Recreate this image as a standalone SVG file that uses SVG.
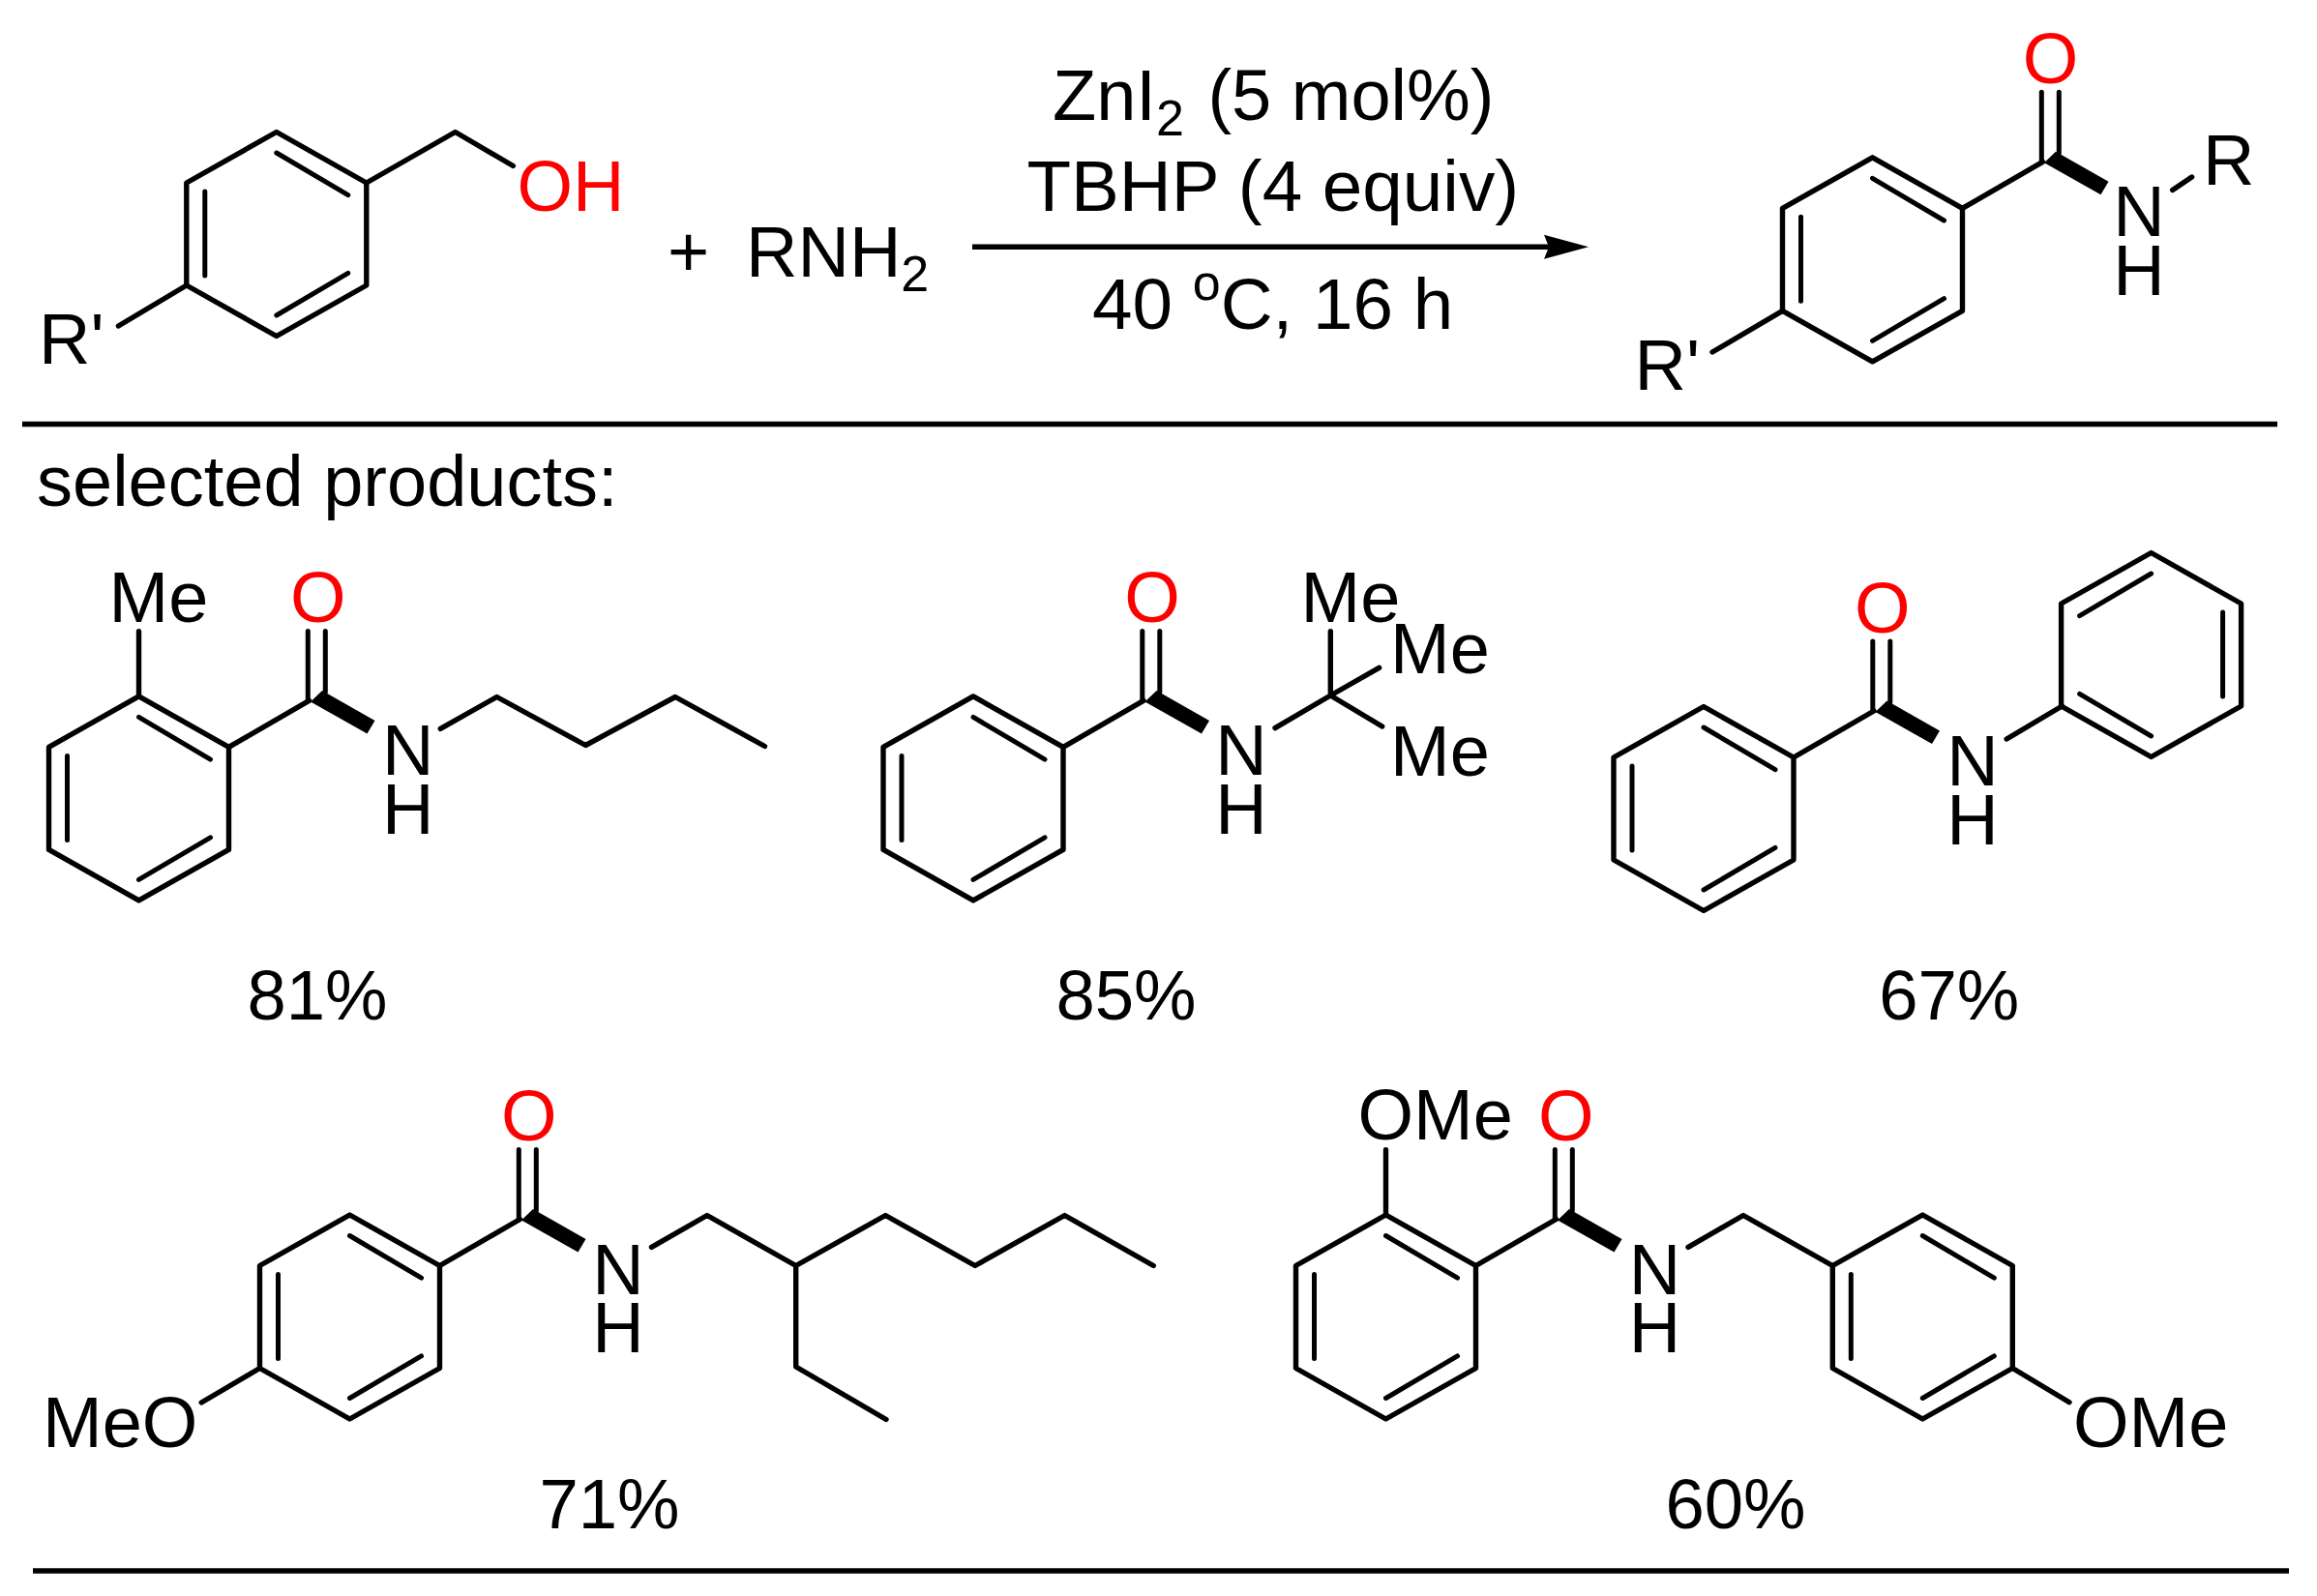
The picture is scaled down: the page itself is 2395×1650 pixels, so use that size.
<svg xmlns="http://www.w3.org/2000/svg" xmlns:xlink="http://www.w3.org/1999/xlink" width="2395" height="1650" viewBox="0 0 2395 1650">
<style>
text{font-family:"Liberation Sans",Arial,sans-serif;font-size:74px;fill:#000}
.r{fill:#f00}
.m{text-anchor:middle}
.s{font-size:52px}
.c{font-size:74.6px}
.y{font-size:72.5px}
.b{fill:none;stroke:#000;stroke-width:5.4;stroke-linejoin:round;stroke-linecap:round}
.i{fill:none;stroke:#000;stroke-width:5;stroke-linecap:round}
.rule{fill:none;stroke:#000;stroke-width:5.4}
</style>
<defs>
<marker id="head" markerUnits="userSpaceOnUse" viewBox="0 -13 46 26" markerWidth="46" markerHeight="26" refX="5" refY="0" orient="auto"><path d="M0,-12.5L46,0L0,12.5L5,0Z" fill="#000"/></marker>
<g id="ring"><path class="b" d="M0,-105.5L93,-53V53L0,105.5L-93,53V-53Z"/><path class="i" d="M0,-84L74,-40.3M-74,-44V43M74,40.4L0,84"/></g>
<g id="core"><use xlink:href="#ring" href="#ring"/><path class="b" d="M93,-53L176,-101"/><path class="i" d="M174.8,-101V-173M192.8,-110V-173"/><path d="M189.5,-111.5L244,-80.5L236,-67L177.5,-100Z" fill="#000"/></g>
</defs>
<g id="connectors">
<path class="rule" d="M23,438.5H2354M34,1624H2366"/>
<path class="rule" d="M1005,255.3H1601" marker-end="url(#head)"/>
</g>
<g id="reactant-alcohol">
<use xlink:href="#ring" href="#ring" x="285.8" y="242"/>
<path class="b" d="M378.8,189L470.6,136.5L530.4,171.5M192.8,295L122.4,337"/>
<text x="534.5" y="218" class="r">OH</text>
<text x="40" y="376.4">R'</text>
</g>
<g id="reactant-amine">
<text x="690" y="286">+</text>
<text x="771" y="286">RNH<tspan class="s" dy="15">2</tspan></text>
</g>
<g id="conditions">
<text x="1088" y="124">ZnI<tspan class="s" dy="15.5">2</tspan><tspan dx="4" dy="-15.5"> (5 mol%)</tspan></text>
<text x="1061.5" y="218" class="c">TBHP (4 equiv)</text>
<text x="1129" y="339.5" class="c">40 <tspan class="s" dy="-29.5">o</tspan><tspan dy="29.5">C, 16 h</tspan></text>
</g>
<g id="product-general">
<use xlink:href="#core" href="#core" x="1935.5" y="268.3"/>
<path class="b" d="M1842.5,321.3L1770,364M2245.7,196.4L2265.6,183"/>
<text x="2119.6" y="85.5" class="r m">O</text>
<text x="2211" y="243.8" class="m">N</text>
<text x="2211" y="305" class="m">H</text>
<text x="2277" y="191">R</text>
<text x="1689.5" y="403.4">R'</text>
</g>
<text id="selected-label" x="38" y="522.6">selected products:</text>
<g id="product-81">
<use xlink:href="#core" href="#core" x="143.5" y="825.4"/>
<path class="b" d="M143.5,720V652.8M455.3,753.4L513.5,720.5L605.3,770.5L698,720.5L790.5,771.5"/>
<text x="112.5" y="643">Me</text>
<text x="328.7" y="643" class="r m">O</text>
<text x="421.7" y="801" class="m">N</text>
<text x="421.7" y="861.8" class="m">H</text>
<text x="328" y="1054" class="m y">81%</text>
</g>
<g id="product-85">
<use xlink:href="#core" href="#core" x="1006" y="825.4"/>
<path class="b" d="M1318,752.7L1375.3,719M1375.3,719V652.8M1375.3,719L1425.6,690.3M1375.3,719L1428.7,751"/>
<text x="1191" y="643" class="r m">O</text>
<text x="1283" y="801" class="m">N</text>
<text x="1283" y="861.8" class="m">H</text>
<text x="1344.5" y="643">Me</text>
<text x="1437" y="695.6">Me</text>
<text x="1437" y="801.5">Me</text>
<text x="1164" y="1054" class="m y">85%</text>
</g>
<g id="product-67">
<use xlink:href="#core" href="#core" x="1761" y="836"/>
<use xlink:href="#ring" href="#ring" transform="translate(2223.6,677) scale(-1,1)"/>
<path class="b" d="M2074.2,764L2131.4,730"/>
<text x="1945.8" y="653.5" class="r m">O</text>
<text x="2039" y="812.4" class="m">N</text>
<text x="2039" y="873" class="m">H</text>
<text x="2014.7" y="1054" class="m y">67%</text>
</g>
<g id="product-71">
<use xlink:href="#core" href="#core" x="361.5" y="1361.5"/>
<path class="b" d="M673.5,1289.4L730.9,1256.5L822.7,1308.5L915.3,1256.5L1007.9,1308.5L1100.5,1256.5L1192.3,1308.5M822.7,1308.5V1413L916,1467.5M268.5,1414.5L208.2,1450"/>
<text x="546.8" y="1179" class="r m">O</text>
<text x="639" y="1337.5" class="m">N</text>
<text x="639" y="1398" class="m">H</text>
<text x="44" y="1496.4">MeO</text>
<text x="630" y="1579.5" class="m y">71%</text>
</g>
<g id="product-60">
<use xlink:href="#core" href="#core" x="1432.5" y="1361.5"/>
<use xlink:href="#ring" href="#ring" x="1987.3" y="1361.5"/>
<path class="b" d="M1432.5,1256V1188.7M1745,1289.4L1802,1256.5L1894.3,1308.5M2080.3,1414.5L2139,1449.7"/>
<text x="1618.9" y="1179" class="r m">O</text>
<text x="1710.6" y="1337.5" class="m">N</text>
<text x="1710.6" y="1398" class="m">H</text>
<text x="1403.5" y="1178">OMe</text>
<text x="2143" y="1496.4">OMe</text>
<text x="1794" y="1579.5" class="m y">60%</text>
</g>
</svg>
